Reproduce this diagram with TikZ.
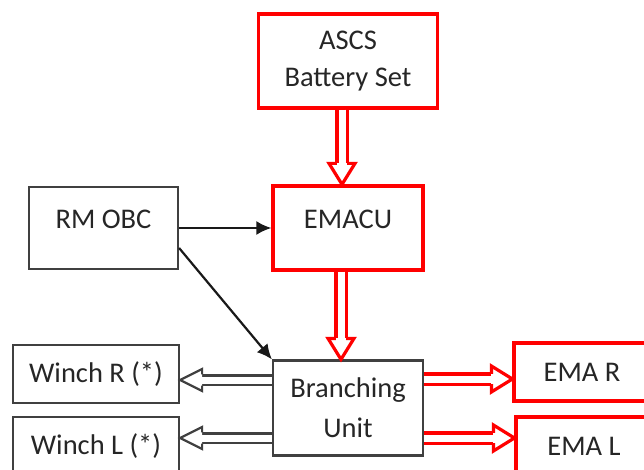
\documentclass[tikz,border=0pt]{standalone}
\usepackage{fontspec}
\setmainfont{Carlito}
\usetikzlibrary{arrows.meta,decorations.markings}
\begin{document}
\begin{tikzpicture}[x=1pt,y=-1pt]
	% Styles
	\tikzstyle{boite}=[draw=black!75, line width=2.2pt, text=black!85, align=center, font=\fontsize{28.5}{37}\selectfont, inner sep=0pt]
	\tikzstyle{boiterouge}=[boite, draw=red, line width=3.2pt]
	\tikzstyle{fleche}=[-{Latex[length=15pt,width=14pt]}, line width=2.2pt, black!90]
	\tikzstyle{flechedouble}=[draw=black!75, line width=2.2pt, double=white, double distance=7pt, shorten >=22pt,
		postaction={decorate, decoration={markings, mark=at position 1 with {\filldraw[draw=black!75, fill=white, line width=2.2pt, shorten >=0pt] (-22pt,5.6pt) -- (-22pt,11pt) -- (0,0) -- (-22pt,-11pt) -- (-22pt,-5.6pt);}}}]
	\tikzstyle{flecherouge}=[draw=red, line width=3.2pt, double=white, double distance=7pt, shorten >=21pt,
		postaction={decorate, decoration={markings, mark=at position 1 with {\filldraw[draw=red, fill=white, line width=3.2pt, shorten >=0pt] (-21pt,5.1pt) -- (-21pt,13pt) -- (0,0) -- (-21pt,-13pt) -- (-21pt,-5.1pt);}}}]
	% Dimensions
	\def\ColonneGauche{96}
	\def\ColonneCentre{348}
	\def\ColonneDroite{582}
	\useasboundingbox (0,0) rectangle (644,470);
	% Noeuds
	\node[boiterouge, minimum width=179pt, minimum height=94pt] (ascs) at (\ColonneCentre,61) {ASCS\\Battery Set};
	\node[boiterouge, minimum width=150pt, minimum height=84pt, text height=14pt, text depth=14pt] (emacu) at (\ColonneCentre,228) {EMACU};
	\node[boite, minimum width=149pt, minimum height=82pt, text height=14pt, text depth=14pt] (rmobc) at (103.5,228) {RM OBC};
	\node[boite, minimum width=150pt, minimum height=95pt] (branch) at (\ColonneCentre,408) {Branching\\[3pt]Unit};
	\node[boite, minimum width=166pt, minimum height=58pt] (winchr) at (\ColonneGauche,374) {Winch R (*)};
	\node[boite, minimum width=166pt, minimum height=58pt] (winchl) at (\ColonneGauche,446) {Winch L (*)};
	\node[boiterouge, minimum width=136pt, minimum height=58pt] (emar) at (\ColonneDroite,372) {EMA R};
	\node[boiterouge, minimum width=136pt, minimum height=58pt] (emal) at (\ColonneDroite+2,446) {EMA L};
	% Arcs
	\draw[fleche] (rmobc.east) -- (emacu.west);
	\draw[fleche] ([yshift=-20pt]rmobc.east) -- (branch.north west);
	\draw[flecherouge] ([xshift=-6pt]ascs.south) -- ([xshift=-6pt]ascs.south |- emacu.north);
	\draw[flecherouge] ([xshift=-7pt]emacu.south) -- ([xshift=-7pt]emacu.south |- branch.north);
	\draw[flecherouge] ([yshift=29pt]branch.east) -- ([yshift=29pt]branch.east -| emar.west);
	\draw[flecherouge] ([yshift=-30pt]branch.east) -- ([yshift=-30pt]branch.east -| emal.west);
	\draw[flechedouble] ([yshift=28pt]branch.west) -- ([yshift=28pt]branch.west -| winchr.east);
	\draw[flechedouble] ([yshift=-30pt]branch.west) -- ([yshift=-30pt]branch.west -| winchl.east);
\end{tikzpicture}
\end{document}
